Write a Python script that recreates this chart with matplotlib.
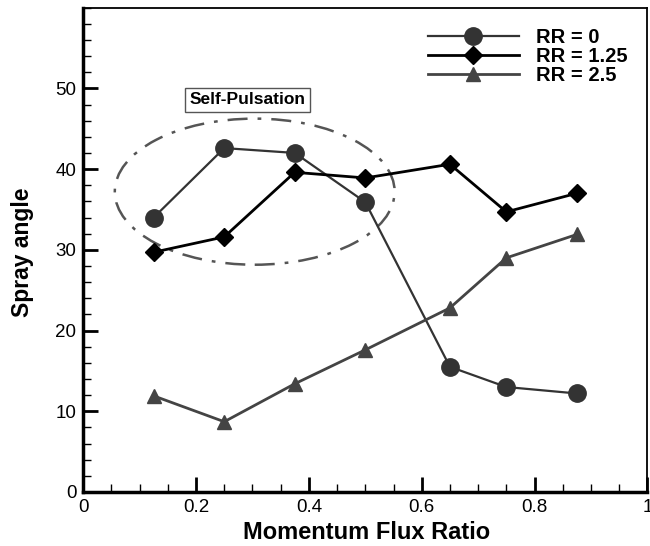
import numpy as np
import matplotlib
matplotlib.use('Agg')
import matplotlib.pyplot as plt
from matplotlib.patches import Ellipse
from matplotlib.ticker import MultipleLocator

######################
# Data
mfr = [0.125, 0.25, 0.375, 0.5, 0.65, 0.75, 0.875]
rr0 = [34.0, 42.6, 42.0, 35.9, 15.5, 13.0, 12.2]
rr125 = [29.7, 31.6, 39.6, 38.9, 40.6, 34.7, 37.0]
rr25 = [11.9, 8.7, 13.4, 17.6, 22.8, 29.0, 31.9]

plt.rcParams['font.family'] = ['Liberation Sans', 'DejaVu Sans']

fig = plt.figure(figsize=(6.5, 5.46), dpi=100)
ax = fig.add_axes([0.128, 0.099, 0.868, 0.887])

ax.plot(mfr, rr0, color='#333333', lw=1.6, marker='o', ms=12.5,
        label='RR = 0')
ax.plot(mfr, rr125, color='black', lw=2.0, marker='D', ms=9.5,
        label='RR = 1.25')
ax.plot(mfr, rr25, color='#444444', lw=2.0, marker='^', ms=9.5,
        label='RR = 2.5')

# Self-pulsation region
ax.add_patch(Ellipse((0.304, 37.2), 0.496, 18.1, fill=False,
                     ec='#555555', lw=1.8, ls=(0, (8, 4, 1.5, 4))))
ax.text(0.291, 48.6, 'Self-Pulsation', ha='center', va='center',
        fontsize=12.5, fontweight='bold',
        bbox=dict(boxstyle='square,pad=0.25', fc='white', ec='#555555',
                  lw=1.0))

ax.set_xlim(0, 1)
ax.set_ylim(0, 60)
ax.set_xticks([0, 0.2, 0.4, 0.6, 0.8, 1])
ax.set_xticklabels(['0', '0.2', '0.4', '0.6', '0.8', '1'])
ax.set_yticks([0, 10, 20, 30, 40, 50])
ax.xaxis.set_minor_locator(MultipleLocator(0.05))
ax.yaxis.set_minor_locator(MultipleLocator(2))
ax.tick_params(which='both', direction='in', top=False, right=False,
               labelsize=13.5, pad=5)
ax.tick_params(which='major', length=11, width=2)
ax.tick_params(which='minor', length=6, width=1)

for s in ['left', 'bottom']:
    ax.spines[s].set_linewidth(2.5)
for s in ['top', 'right']:
    ax.spines[s].set_linewidth(1.3)

ax.set_xlabel('Momentum Flux Ratio', fontsize=17, fontweight='bold')
ax.set_ylabel('Spray angle', fontsize=16.5, fontweight='bold')
ax.xaxis.set_label_coords(0.502, -0.059)
ax.yaxis.set_label_coords(-0.088, 0.494)

leg = ax.legend(loc='upper right', frameon=False, handlelength=4.5,
                prop=dict(size=14.5, weight='bold'), borderaxespad=0.6,
                labelspacing=0.0, handletextpad=0.85)

fig.savefig('out.png', dpi=100)
